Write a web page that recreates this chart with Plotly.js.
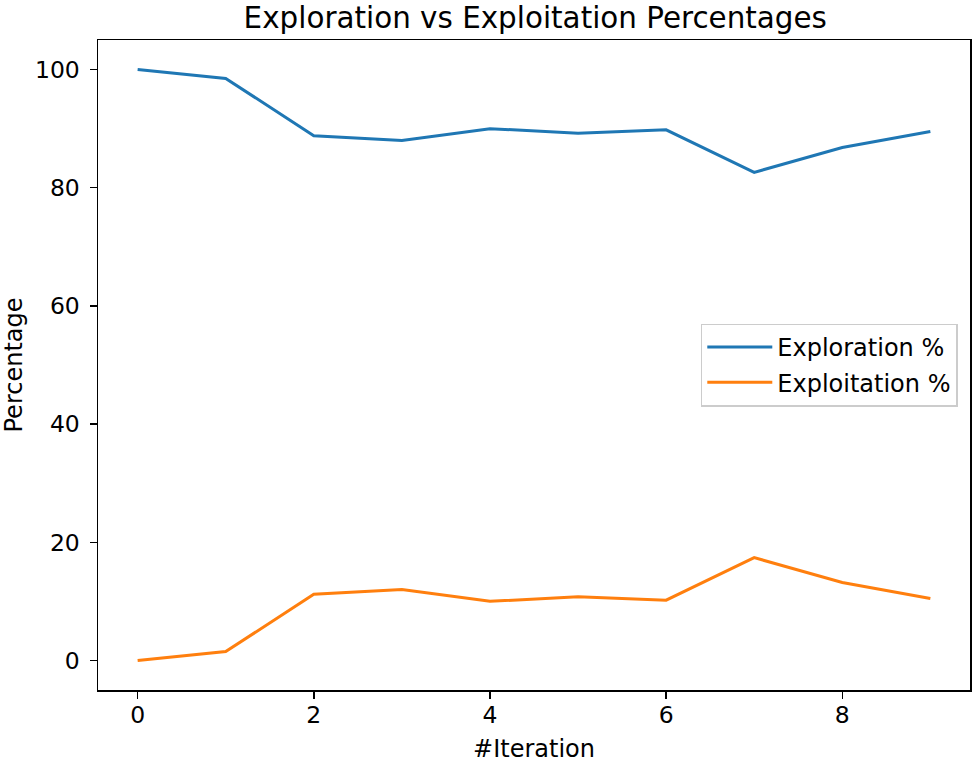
<!DOCTYPE html>
<html>
<head>
<meta charset="utf-8">
<script src="https://cdn.plot.ly/plotly-3.0.1.min.js"></script>
<style>html,body{margin:0;padding:0;background:#fff;}#chart{width:975px;height:763px;}</style>
</head>
<body>
<div id="chart"></div>
<script>
const iterations = [0, 1, 2, 3, 4, 5, 6, 7, 8, 9];
const exploration = [100, 98.5, 88.8, 88.0, 90.0, 89.2, 89.8, 82.6, 86.8, 89.5];
const exploitation = [0, 1.5, 11.2, 12.0, 10.0, 10.8, 10.2, 17.4, 13.2, 10.5];
const xTicks = [0, 2, 4, 6, 8];
const yTicks = [0, 20, 40, 60, 80, 100];

const font = 'DejaVu Sans, sans-serif';
const traces = [
  {x: iterations, y: exploration, mode: 'lines', name: 'Exploration %', legendgroup: 'a', line: {color: '#1f77b4', width: 3}},
  {x: iterations, y: exploitation, mode: 'lines', name: 'Exploitation %', legendgroup: 'b', line: {color: '#ff7f0e', width: 3}}
];
const axisCommon = {
  showline: true, linecolor: '#000', linewidth: 1.5, mirror: true,
  ticks: 'outside', ticklen: 7, tickwidth: 1.5, tickcolor: '#000',
  showgrid: false, zeroline: false,
  tickfont: {family: font, size: 23.5, color: '#000'}
};
const layout = {
  width: 975, height: 763,
  margin: {l: 98, r: 5, t: 40, b: 73},
  paper_bgcolor: '#fff', plot_bgcolor: '#fff',
  font: {family: font, color: '#000'},
  title: {text: 'Exploration vs Exploitation Percentages', font: {family: font, size: 29.4, color: '#000'}, x: 0.549, xanchor: 'center', y: 0.977, yanchor: 'middle'},
  xaxis: Object.assign({}, axisCommon, {range: [-0.45, 9.45], tickvals: xTicks, ticktext: xTicks.map(String), ticklabelstandoff: -4,
    title: {text: '#Iteration', font: {family: font, size: 24, color: '#000'}, standoff: 20}}),
  yaxis: Object.assign({}, axisCommon, {range: [-5, 105], tickvals: yTicks, ticktext: yTicks.map(String), ticklabelstandoff: 5,
    title: {text: 'Percentage', font: {family: font, size: 24, color: '#000'}, standoff: 10}}),
  legend: {x: 0.986, xanchor: 'right', y: 0.5, yanchor: 'middle', bgcolor: 'rgba(255,255,255,0.8)', bordercolor: '#cccccc', borderwidth: 1.5,
    font: {family: font, size: 24, color: '#000'}, itemwidth: 65, traceorder: 'grouped', tracegroupgap: 1},
  showlegend: true
};
Plotly.newPlot('chart', traces, layout, {displayModeBar: false, staticPlot: true});
</script>
</body>
</html>
